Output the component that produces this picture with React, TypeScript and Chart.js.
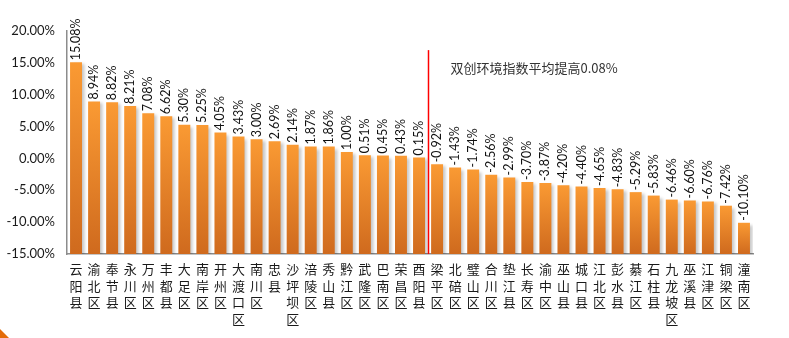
import React, { useEffect, useRef } from "react";
import { Chart, registerables } from "chart.js";

Chart.register(...registerables);

const CATEGORIES: string[] = [
  "云阳县", "渝北区", "奉节县", "永川区", "万州区", "丰都县", "大足区", "南岸区", "开州区", "大渡口区",
  "南川区", "忠县", "沙坪坝区", "涪陵区", "秀山县", "黔江区", "武隆区", "巴南区", "荣昌区", "酉阳县",
  "梁平区", "北碚区", "璧山区", "合川区", "垫江县", "长寿区", "渝中区", "巫山县", "城口县", "江北区",
  "彭水县", "綦江区", "石柱县", "九龙坡区", "巫溪县", "江津区", "铜梁区", "潼南区",
];

const VALUES: number[] = [
  15.08, 8.94, 8.82, 8.21, 7.08, 6.62, 5.3, 5.25, 4.05, 3.43,
  3.0, 2.69, 2.14, 1.87, 1.86, 1.0, 0.51, 0.45, 0.43, 0.15,
  -0.92, -1.43, -1.74, -2.56, -2.99, -3.7, -3.87, -4.2, -4.4, -4.65,
  -4.83, -5.29, -5.83, -6.46, -6.6, -6.76, -7.42, -10.1,
];

const Y_MIN = -15;
const Y_MAX = 20;
const Y_STEP = 5;

const AVG_TEXT = "双创环境指数平均提高0.08%";
const AVG_SPLIT_INDEX = 19.5; // between 酉阳县 and 梁平区
const AVG_LINE_TOP_VALUE = 17;
const AVG_TEXT_VALUE = 14.2;

const BAR_TOP_COLOR = "#FA9A33";
const BAR_BOTTOM_COLOR = "#CF6A1E";

const App: React.FC = () => {
  const canvasRef = useRef<HTMLCanvasElement | null>(null);

  useEffect(() => {
    document.body.style.margin = "0";
    const canvas = canvasRef.current;
    if (!canvas) return;

    const shadowPlugin = {
      id: "barShadow",
      beforeDatasetsDraw(chart: any) {
        const ctx = chart.ctx;
        ctx.save();
        ctx.shadowColor = "rgba(0,0,0,0.22)";
        ctx.shadowOffsetX = 3;
        ctx.shadowOffsetY = 2;
        ctx.shadowBlur = 3;
      },
      afterDatasetsDraw(chart: any) {
        chart.ctx.restore();
      },
    };

    const labelPlugin = {
      id: "valueLabels",
      afterDatasetsDraw(chart: any) {
        const ctx = chart.ctx;
        const meta = chart.getDatasetMeta(0);
        ctx.save();
        ctx.font = "12.5px Lato";
        ctx.fillStyle = "#111111";
        ctx.textAlign = "left";
        ctx.textBaseline = "middle";
        meta.data.forEach((bar: any, i: number) => {
          ctx.save();
          ctx.translate(bar.x, bar.y - 2);
          ctx.rotate(-Math.PI / 2);
          ctx.fillText(VALUES[i].toFixed(2) + "%", 0, 0);
          ctx.restore();
        });
        ctx.restore();
      },
    };

    const annotationPlugin = {
      id: "avgLine",
      afterDraw(chart: any) {
        const ctx = chart.ctx;
        const xs = chart.scales.x;
        const ys = chart.scales.y;
        const x = Math.round(xs.getPixelForValue(AVG_SPLIT_INDEX)) + 0.5;
        ctx.save();
        ctx.strokeStyle = "#FF0000";
        ctx.lineWidth = 1.5;
        ctx.beginPath();
        ctx.moveTo(x, ys.getPixelForValue(AVG_LINE_TOP_VALUE));
        ctx.lineTo(x, ys.getPixelForValue(Y_MIN));
        ctx.stroke();
        ctx.font = "13px 'Noto Sans CJK SC'";
        ctx.fillStyle = "#333333";
        ctx.textAlign = "left";
        ctx.textBaseline = "middle";
        ctx.fillText(AVG_TEXT, x + 22, ys.getPixelForValue(AVG_TEXT_VALUE));
        // corner decoration
        ctx.fillStyle = "#E46C0A";
        ctx.beginPath();
        ctx.moveTo(0, 329);
        ctx.lineTo(9, 338);
        ctx.lineTo(0, 338);
        ctx.closePath();
        ctx.fill();
        ctx.restore();
      },
    };

    const chart = new Chart(canvas, {
      type: "bar",
      data: {
        labels: CATEGORIES.map((c) => c.split("")),
        datasets: [
          {
            data: VALUES,
            base: Y_MIN,
            backgroundColor: (c: any) => {
              const chart = c.chart;
              const ys = chart.scales?.y;
              if (!ys || c.dataIndex == null) return BAR_TOP_COLOR;
              const yTop = ys.getPixelForValue(VALUES[c.dataIndex]);
              const yBot = ys.getPixelForValue(Y_MIN);
              if (!isFinite(yTop) || !isFinite(yBot) || yTop === yBot) return BAR_TOP_COLOR;
              const g = chart.ctx.createLinearGradient(0, yTop, 0, yBot);
              g.addColorStop(0, BAR_TOP_COLOR);
              g.addColorStop(1, BAR_BOTTOM_COLOR);
              return g;
            },
            borderWidth: 0,
            barPercentage: 0.72,
            categoryPercentage: 0.92,
          } as any,
        ],
      },
      options: {
        responsive: false,
        animation: false,
        maintainAspectRatio: false,
        layout: { padding: { top: 31, right: 36, bottom: 0, left: 0 } },
        plugins: {
          legend: { display: false },
          tooltip: { enabled: false },
        },
        scales: {
          x: {
            grid: { display: false, drawTicks: false },
            border: { display: true, color: "#8c8c8c", width: 1.5 },
            ticks: {
              autoSkip: false,
              maxRotation: 0,
              minRotation: 0,
              padding: 7,
              color: "#1a1a1a",
              font: { family: "'Noto Sans CJK SC'", size: 13, lineHeight: 1.27 },
            },
            afterFit(scale: any) {
              scale.height = 84;
            },
          },
          y: {
            min: Y_MIN,
            max: Y_MAX,
            grid: { display: false, drawTicks: false },
            border: { display: true, color: "#8c8c8c", width: 1.5 },
            ticks: {
              stepSize: Y_STEP,
              padding: 12,
              color: "#1a1a1a",
              font: { family: "Lato", size: 13 },
              callback: (v: any) => Number(v).toFixed(2) + "%",
            },
            afterFit(scale: any) {
              scale.width = 67;
            },
          },
        },
      },
      plugins: [shadowPlugin, labelPlugin, annotationPlugin],
    });

    return () => chart.destroy();
  }, []);

  return (
    <div style={{ position: "relative", width: 789, height: 338, background: "#fff" }}>
      <canvas ref={canvasRef} width={789} height={338} style={{ display: "block" }} />
    </div>
  );
};

export default App;
